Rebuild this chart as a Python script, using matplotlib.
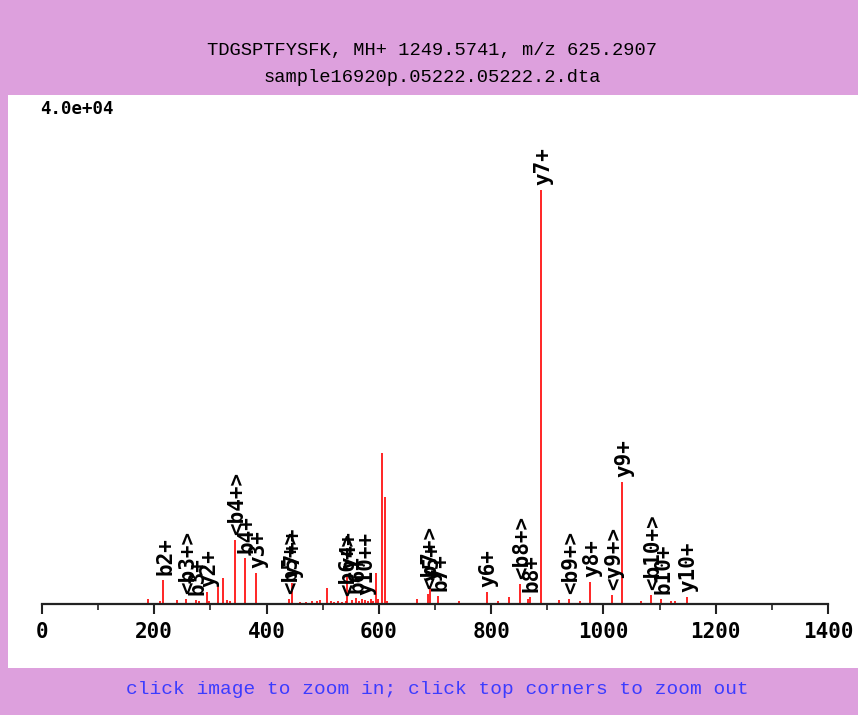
import matplotlib
matplotlib.use('Agg')
import matplotlib.pyplot as plt
from matplotlib.patches import Rectangle

title_line1 = 'TDGSPTFYSFK, MH+ 1249.5741, m/z 625.2907'
title_line2 = 'sample16920p.05222.05222.2.dta'
footer = 'click image to zoom in; click top corners to zoom out'
scale_label = '4.0e+04'

peak_mz = [189, 210, 216, 240, 256, 274, 279, 294, 298, 314, 323, 330, 334, 343, 361, 381,
           440, 445, 459, 470, 481, 490, 495, 508, 515, 520, 527, 535, 541, 544, 553, 559,
           564, 570, 575, 580, 586, 590, 595, 599, 606, 611, 615, 668,
           688, 691, 706, 743, 792, 812, 832, 851, 866, 869, 889, 921, 939, 958, 976,
           1015, 1033, 1067, 1085, 1103, 1121, 1128, 1148]
peak_int = [400, 240, 1900, 320, 400, 320, 240, 950, 240, 1430, 2060, 320, 240, 5080, 3650, 2460,
            400, 1670, 160, 160, 240, 240, 320, 1270, 240, 160, 240, 160, 240, 2380, 320, 480,
            240, 400, 320, 240, 400, 240, 2460, 400, 11990, 8500, 240, 400,
            790, 1430, 640, 240, 950, 240, 560, 1590, 400, 560, 32860, 320, 400, 240, 1750,
            710, 9690, 240, 710, 400, 240, 240, 560]

ion_labels = ['b2+', '<b3+>', 'b3+', 'y2+', '<b4+>', 'b4+', 'y3+', '<b5+>', 'y7++',
              '<b6+>', 'y4+', 'b6+', 'y10++', '<b7+>', 'y5+', 'b7+', 'y6+', '<b8+>', 'b8+',
              'y7+', '<b9+>', 'y8+', '<y9+>', 'y9+', '<b10+>', 'b10+', 'y10+']
ion_mz = [216, 256, 274, 294, 343, 361, 381, 440, 445,
          541, 544, 559, 575, 688, 691, 706, 792, 851, 869,
          889, 939, 976, 1015, 1033, 1085, 1103, 1148]

W, H = 858, 715
fig = plt.figure(figsize=(W / 100, H / 100), dpi=100)
fig.patch.set_facecolor('#dda0dd')
fig.patches.append(Rectangle((8 / W, (H - 668) / H), (W - 8) / W, (668 - 95) / H,
                             transform=fig.transFigure, facecolor='white',
                             edgecolor='none', zorder=-1))

fig.text(432 / W, 1 - 50 / H, title_line1, ha='center', va='center',
         family='Liberation Mono', fontsize=13.5, color='black')
fig.text(432 / W, 1 - 78 / H, title_line2, ha='center', va='center',
         family='Liberation Mono', fontsize=13.5, color='black')
fig.text(437 / W, 1 - 690 / H, footer, ha='center', va='center',
         family='Liberation Mono', fontsize=14, color='#3c3cff')
fig.text(40 / W, 1 - 109 / H, scale_label, ha='left', va='center',
         family='DejaVu Sans Mono', fontweight='bold', fontsize=12.5)

ax = fig.add_axes([42 / W, (H - 604) / H, 786 / W, 504 / H])
ax.set_zorder(2)
ax.set_facecolor('none')
ax.vlines(peak_mz, 0, peak_int, color='#ff0000', lw=1.2, zorder=2)
ax.set_xlim(0, 1400)
ax.set_ylim(0, 40000)

for s in ['top', 'left', 'right']:
    ax.spines[s].set_visible(False)
ax.spines['bottom'].set_linewidth(1.6)
ax.spines['bottom'].set_color('#222222')
ax.set_yticks([])
ax.set_xticks(range(0, 1401, 200))
ax.set_xticks(range(100, 1400, 200), minor=True)
ax.tick_params(axis='x', which='major', direction='out', length=7, width=1.5,
               color='#222222', pad=6)
ax.tick_params(axis='x', which='minor', direction='out', length=4, width=1.2,
               color='#222222')
for lab in ax.get_xticklabels():
    lab.set_family('DejaVu Sans Mono')
    lab.set_fontweight('bold')
    lab.set_fontsize(15)

lookup = dict(zip(peak_mz, peak_int))
for text, mz in zip(ion_labels, ion_mz):
    ax.annotate(text, xy=(mz, lookup[mz]), xytext=(1.5, 3.5), textcoords='offset points',
                rotation=90, ha='center', va='bottom', family='DejaVu Sans Mono',
                fontweight='bold', fontsize=15, color='black', zorder=3)

fig.savefig('out.png', dpi=100, facecolor=fig.get_facecolor())
